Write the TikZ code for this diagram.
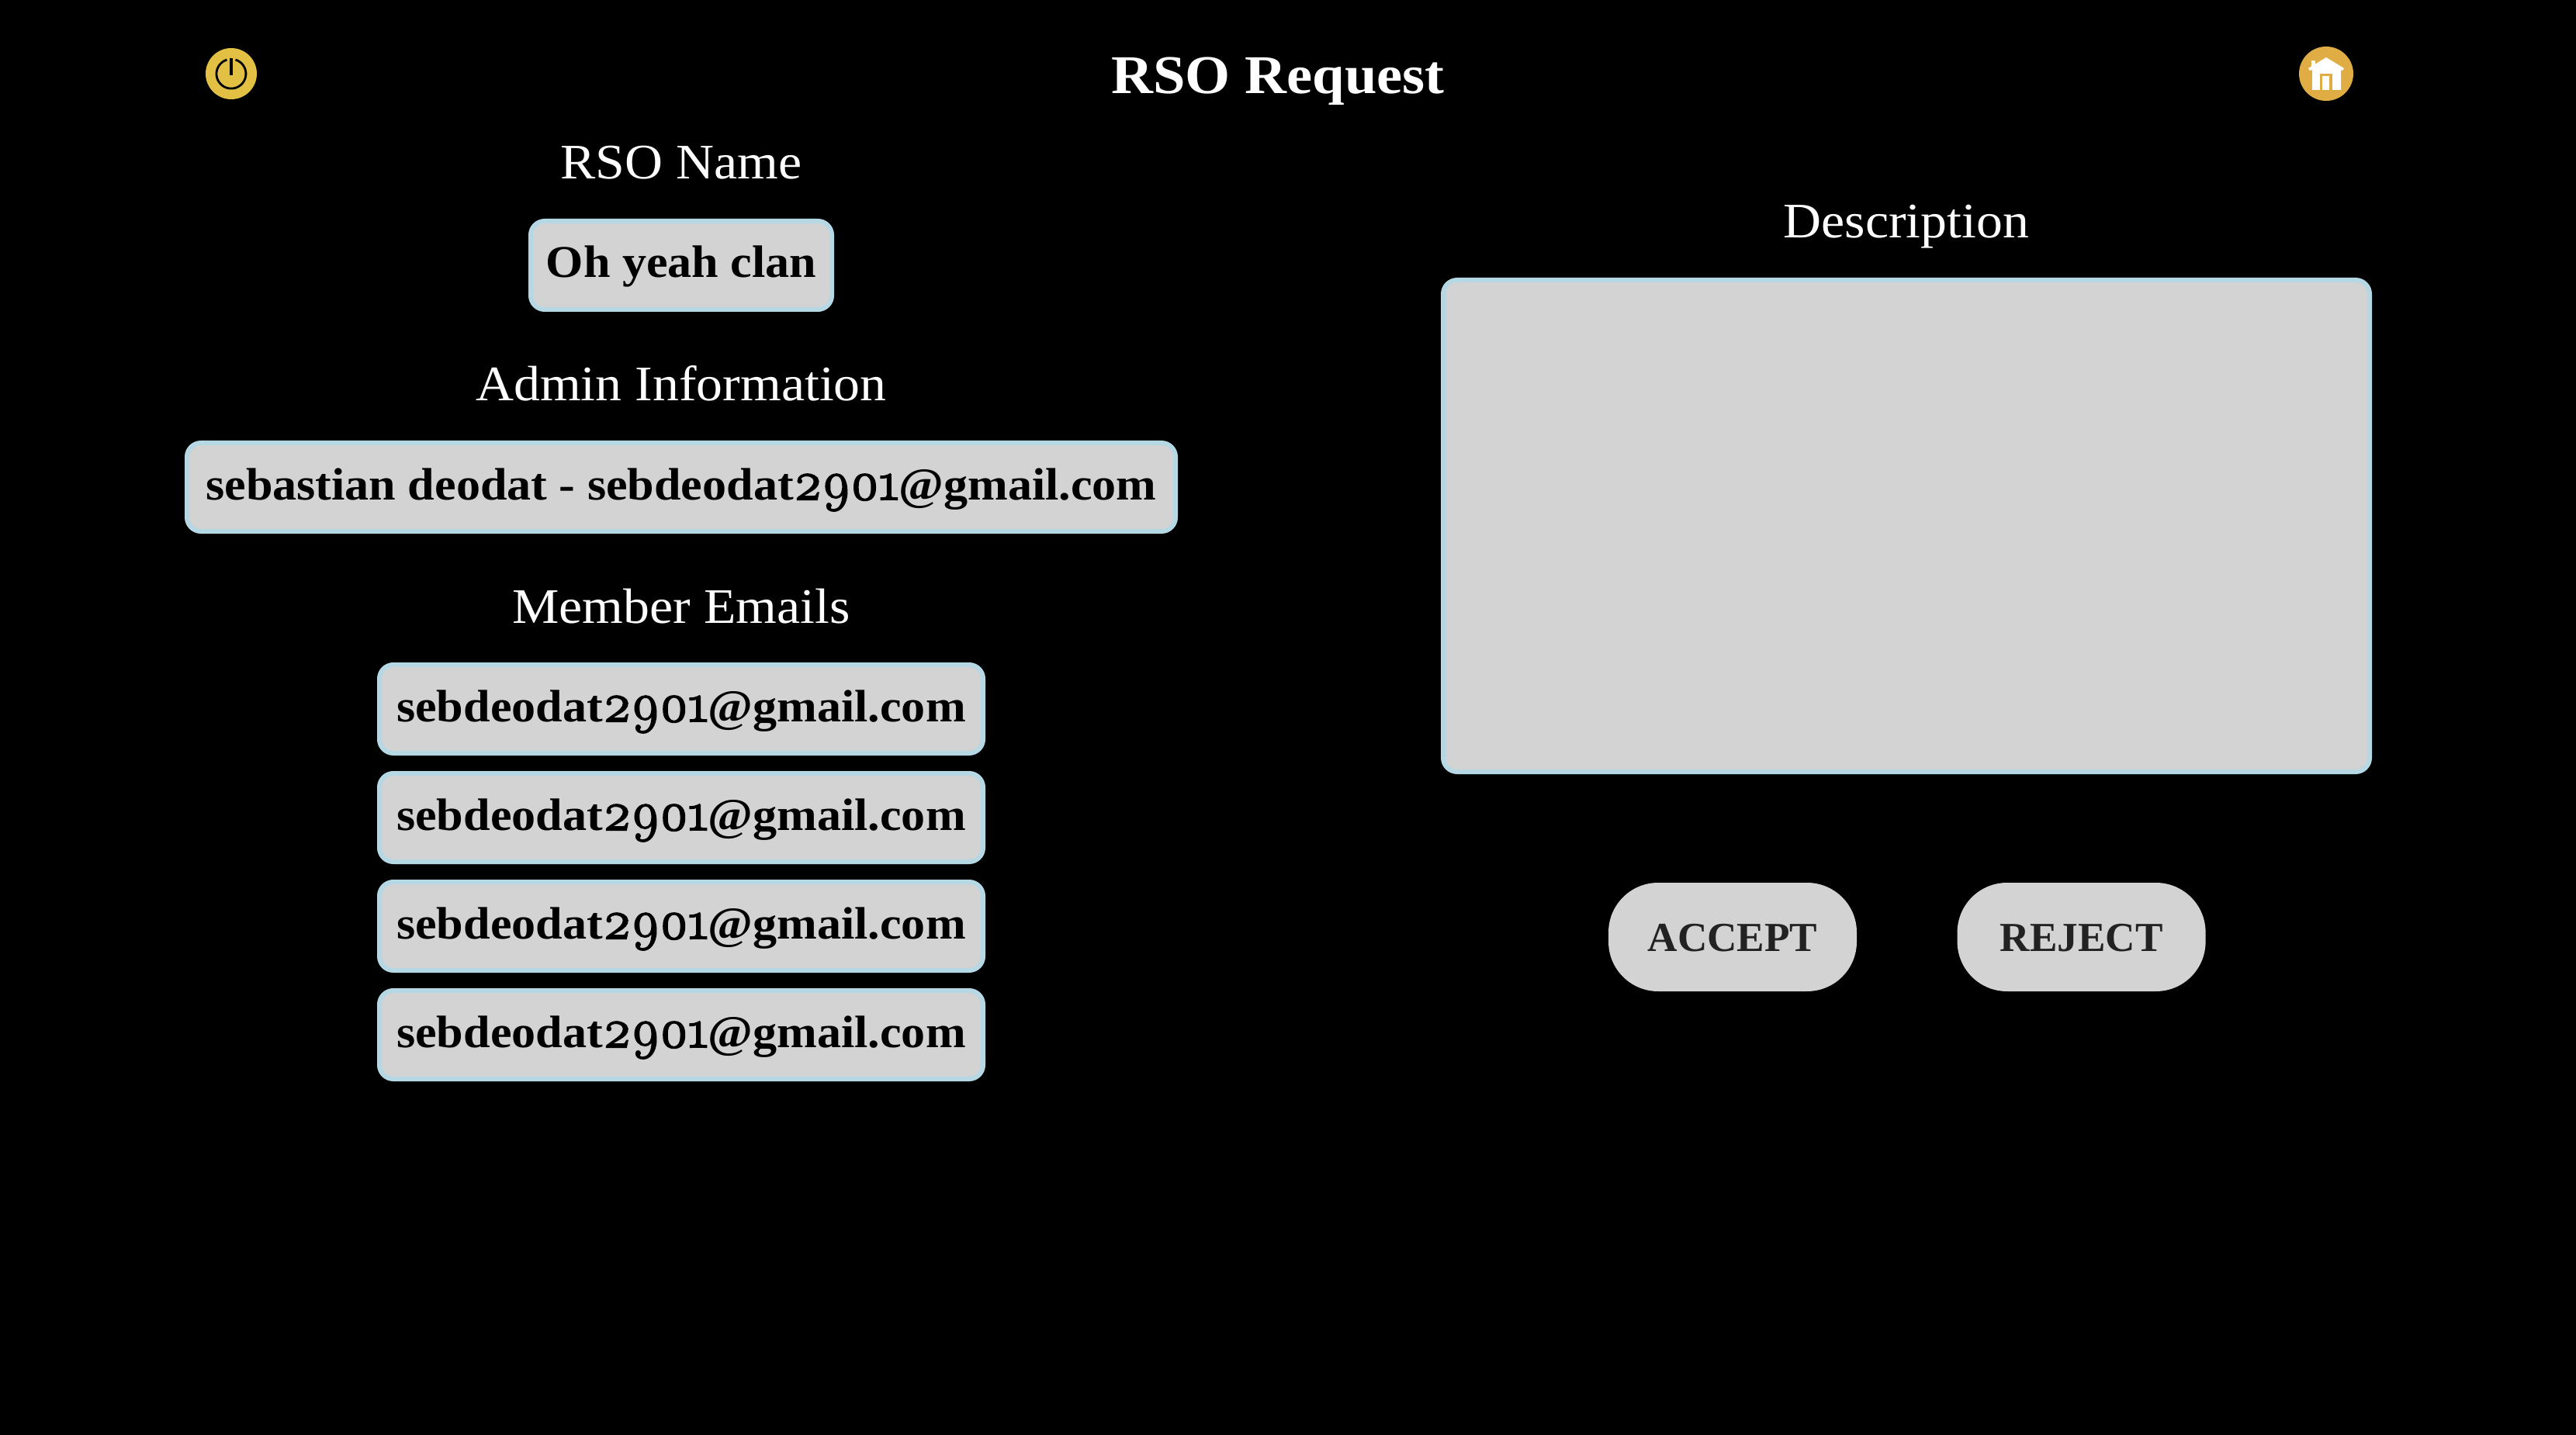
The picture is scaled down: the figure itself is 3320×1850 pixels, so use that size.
\documentclass[tikz,border=0pt]{standalone}
\usepackage{fontspec}
\setmainfont{Liberation Serif}
\newfontfamily\wideserif[FakeStretch=1.06]{Liberation Serif}
\newfontfamily\olddigits[Numbers=OldStyle, RawFeature={embolden=3}, Scale=1.2]{Latin Modern Roman}
\newcommand{\memberaddr}{sebdeodat{\mdseries\olddigits 2901}@gmail.com}
\usetikzlibrary{
    positioning,
    calc
}
\definecolor{pagegray}{HTML}{D3D3D3}
\definecolor{boxedge}{HTML}{B5D8E4}
\definecolor{powergold}{HTML}{E2C044}
\definecolor{homegold}{HTML}{E0AC44}
\definecolor{btntext}{HTML}{222222}

\begin{document}
\begin{tikzpicture}[
    x=0.25pt, y=-0.25pt,
    every node/.style={font=\wideserif, inner sep=0pt},
    heading/.style={text=white, font=\wideserif\fontsize{16}{19}\selectfont,
      text height=11.5pt, text depth=2.5pt, outer sep=0pt},
    field/.style={rectangle, draw=boxedge, line width=1.5pt, fill=pagegray,
      rounded corners=4.5pt, minimum height=28.5pt, text height=10.5pt, text depth=2.5pt,
      font=\wideserif\bfseries\fontsize{14.65}{17}\selectfont},
    action/.style={rectangle, fill=pagegray, rounded corners=16pt,
      minimum width=80pt, minimum height=35pt, text=btntext, text height=9pt, text depth=0pt,
      font=\rmfamily\bfseries\fontsize{13.3}{16}\selectfont},
    icon/.style={circle, minimum size=16.5pt}
]
\fill[black] (0,0) rectangle (3320,1850);

\node[text=white, font=\wideserif\bfseries\fontsize{17.6}{21}\selectfont] (title) at (1647,105) {RSO Request};

% top icons
\node[icon, fill=powergold] (power) at (298,95) {};
\draw[black, line width=0.7pt] ($(power.center)+(5.5,-18)$) arc[start angle=-73, end angle=253, radius=4.75pt, y radius=-4.75pt];
\draw[black, line width=0.8pt] (power.center) ++(0,-20) -- ++(0,22);
\node[icon, fill=homegold, minimum size=17.5pt] (home) at (2998,95) {};
\begin{scope}[shift={(home.center)}]
  \fill[white] (-19,-17) rectangle (-14,-6);
  \fill[white] (0,-21) -- (23,-7) -- (21,-4) -- (19,-5) -- (19,21) -- (-18,21) -- (-18,-5) -- (-21,-4) -- (-23,-7) -- cycle;
  \fill[homegold] (-8,0) rectangle (8,21);
  \fill[white] (-5,3) rectangle (4,21);
\end{scope}

% left column
\node[heading] (nameLabel) at (878,213) {RSO Name};
\node[field, minimum width=97pt, below=10.25pt of nameLabel] (nameBox) {Oh yeah clan};
\node[heading, below=17.25pt of nameBox] (adminLabel) {Admin Information};
\node[field, minimum width=318.5pt, below=10.25pt of adminLabel] (adminBox) {sebastian deodat - \memberaddr};
\node[heading, below=17.25pt of adminBox] (memberLabel) {Member Emails};
\node[field, minimum width=194.5pt, below=10.25pt of memberLabel] (emailA) {\memberaddr};
\node[field, minimum width=194.5pt, below=5pt of emailA] (emailB) {\memberaddr};
\node[field, minimum width=194.5pt, below=5pt of emailB] (emailC) {\memberaddr};
\node[field, minimum width=194.5pt, below=5pt of emailC] (emailD) {\memberaddr};

% right column
\node[heading] (descLabel) at (2457,289) {Description};
\node[field, minimum width=298.5pt, minimum height=158.5pt, below=10.25pt of descLabel] (descBox) {};
\node[action] (accept) at (2233,1208) {ACCEPT};
\node[action, right=32pt of accept] (reject) {REJECT};
\end{tikzpicture}
\end{document}
